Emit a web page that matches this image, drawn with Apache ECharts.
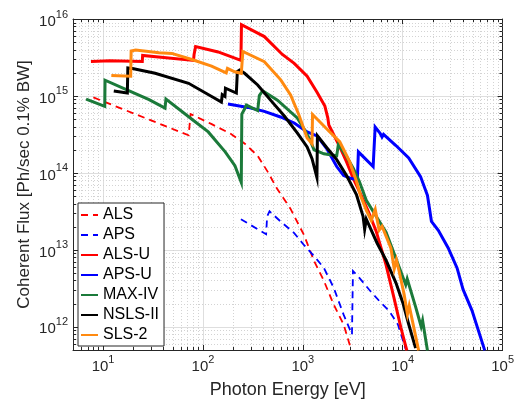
<!DOCTYPE html>
<html><head><meta charset="utf-8">
<script src="https://cdn.jsdelivr.net/npm/echarts@6/dist/echarts.min.js"></script>
<style>html,body{margin:0;padding:0;background:#fff}#c{width:517px;height:404px}</style>
</head><body><div id="c"></div>
<script>
// ---- tick values ----
const xMajorTicks = [10, 100, 1000, 10000, 100000];
const yMajorTicks = [1e12, 1e13, 1e14, 1e15, 1e16];
const xMinorTicks = [6,7,8,9,20,30,40,50,60,70,80,90,200,300,400,500,600,700,800,900,
  2000,3000,4000,5000,6000,7000,8000,9000,20000,30000,40000,50000,60000,70000,80000,90000];
const yMinorTicks = [6e11,7e11,8e11,9e11,2e12,3e12,4e12,5e12,6e12,7e12,8e12,9e12,
  2e13,3e13,4e13,5e13,6e13,7e13,8e13,9e13,2e14,3e14,4e14,5e14,6e14,7e14,8e14,9e14,
  2e15,3e15,4e15,5e15,6e15,7e15,8e15,9e15];

// ---- series data [photon energy eV, coherent flux] ----
const ALS = [[8.0,9.57e14],[71.9,3.08e14],[75.2,5.82e14],[121,4.33e14],[191,3.21e14],[263,2.39e14],
  [353,1.67e14],[444,1.04e14],[557,6.12e13],[749,3.46e13],[1030,1.55e13],[1294,7.18e12],
  [1625,3.96e12],[2040,1.94e12],[2560,1.07e12],[3000,5.41e11]];
const APS = [[240,2.50e13],[429,1.60e13],[439,2.73e13],[464,3.17e13],[597,2.35e13],[820,1.65e13],
  [1030,1.15e13],[1294,8.32e12],[1625,5.82e12],[2040,3.21e12],[2560,1.44e12],[3104,7.94e11],
  [3176,5.32e12],[3681,4.33e12],[4624,3.03e12],[5807,2.18e12],[7293,1.62e12],[8955,1.07e12],[10715,5.1e11]];
const ALS_U = [[7.56,2.81e15],[11.65,2.87e15],[24.7,2.81e15],[24.9,3.36e15],[80.5,2.90e15],[81.5,3.46e15],
  [84.4,4.39e15],[142,3.73e15],[240,2.90e15],[243,8.44e15],[412,5.91e15],[624,3.46e15],[820,2.65e15],
  [1104,1.80e15],[1387,1.12e15],[1662,7.38e14],[1778,5.19e14],[1820,4.20e14],[2345,2.18e14],
  [2734,1.40e14],[3206,8.44e13],[3680,5.74e13],[4518,3.17e13],[5420,1.75e13],[6808,6.37e12],
  [8166,2.39e12],[9580,9.8e11],[10990,4.94e11]];
const APS_U = [[178,7.84e14],[282,7.10e14],[412,6.31e14],[597,5.33e14],[820,4.46e14],[1104,3.41e14],
  [1387,3.03e14],[1740,2.06e14],[2183,1.21e14],[2560,9.23e13],[3069,8.44e13],[3516,8.19e13],
  [3598,1.88e14],[5058,1.21e14],[5297,3.95e14],[5943,3.26e14],[6208,2.94e14],[6427,3.17e14],
  [8551,2.27e14],[11480,1.57e14],[15080,8.96e13],[17690,5.09e13],[19390,2.35e13],[22710,1.80e13],
  [28520,1.06e13],[34990,5.83e12],[40180,3.06e12],[49320,1.64e12],[66230,4.94e11]];
const MAX_IV = [[6.76,9.10e14],[10.4,7.33e14],[10.47,1.60e15],[17.1,1.21e15],[28.9,8.96e14],[41.7,6.96e14],
  [42.6,9.10e14],[76.9,5.02e14],[113,3.41e14],[167,1.88e14],[209,1.24e14],[242,7.50e13],[245,5.82e14],
  [261,6.76e14],[272,7.61e14],[353,6.46e14],[367,1.01e15],[396,1.17e15],[557,8.83e14],[879,5.18e14],
  [1030,3.73e14],[1181,2.69e14],[1294,2.00e14],[1625,1.77e14],[2183,1.67e14],[2270,2.35e14],
  [2746,1.62e14],[3206,1.14e14],[3681,7.73e13],[4318,4.40e13],[5420,2.73e13],[6808,1.70e13],
  [8166,9.10e12],[10715,3.52e12],[11090,4.20e12],[13530,1.78e12],[15290,1.01e12],[15810,1.21e12],[17690,4.94e11]];
const NSLS_II = [[12.8,1.16e15],[17.5,1.09e15],[17.7,2.32e15],[19.7,2.28e15],[33.2,1.97e15],[71.8,1.46e15],
  [121,9.93e14],[153,8.32e14],[156,1.04e15],[166,9.86e14],[168,1.26e15],[216,1.09e15],[221,2.07e15],
  [233,2.17e15],[261,1.97e15],[353,1.39e15],[475,8.83e14],[653,5.48e14],[879,3.31e14],[1104,2.18e14],
  [1236,1.53e14],[1384,8.69e13],[1400,3.03e14],[1740,2.12e14],[2183,1.49e14],[2740,9.23e13],
  [3440,5.25e13],[4008,2.73e13],[4159,1.85e13],[4318,2.50e13],[5546,1.22e13],[6808,7.38e12],
  [8551,3.73e12],[10020,2.06e12],[11480,1.08e12],[13460,5.30e11]];
const SLS_2 = [[12.1,1.84e15],[18.9,1.80e15],[19.1,3.85e15],[21.2,3.94e15],[36.3,3.64e15],[48.8,3.57e15],
  [77.4,2.98e15],[122,2.44e15],[171,1.99e15],[176,2.28e15],[208,2.06e15],[242,1.97e15],[251,3.78e15],
  [412,2.79e15],[601,1.62e15],[754,1.03e15],[912,5.71e14],[1104,2.85e14],[1236,2.39e14],[1251,5.74e14],
  [1493,4.55e14],[1862,3.40e14],[2340,2.54e14],[2942,1.40e14],[3448,7.73e13],[3776,5.09e13],
  [4325,3.27e13],[4842,2.42e13],[5308,3.36e13],[5807,1.80e13],[6210,2.03e13],[7620,1.05e13],
  [8222,5.65e12],[8650,7.38e12],[9205,5.28e12],[10330,2.64e12],[11150,1.46e12],[11620,1.88e12],
  [13990,5.96e11],[14420,4.94e11]];

const FONT = 'Liberation Sans, Arial, Helvetica, sans-serif';
const AX = '#262626';

function isPow10(v, list) { return list.some(t => Math.abs(v - t) / t < 1e-6); }
function supLabel(list) {
  return function (v) {
    if (!isPow10(v, list)) return '';
    return '{b|10}{s|' + Math.round(Math.log10(v)) + '}';
  };
}
const rich = {
  b: { fontSize: 15, fontFamily: FONT, color: AX, lineHeight: 20, verticalAlign: 'bottom' },
  s: { fontSize: 11, fontFamily: FONT, color: AX, lineHeight: 11, verticalAlign: 'top' }
};

function minorX(params, api) {
  const cs = params.coordSys;
  const x = Math.round(api.coord([api.value(0), 1e14])[0]) + 0.5;
  const b = cs.y + cs.height, t = cs.y;
  return { type: 'group', children: [
    { type: 'line', shape: { x1: x, y1: t, x2: x, y2: b }, style: { stroke: '#d3d3d3', lineWidth: 1, lineDash: [1, 2] } },
    { type: 'line', shape: { x1: x, y1: b, x2: x, y2: b - 3 }, style: { stroke: AX, lineWidth: 1 } },
    { type: 'line', shape: { x1: x, y1: t, x2: x, y2: t + 3 }, style: { stroke: AX, lineWidth: 1 } }
  ]};
}
function minorY(params, api) {
  const cs = params.coordSys;
  const y = Math.round(api.coord([100, api.value(1)])[1]) + 0.5;
  const l = cs.x, r = cs.x + cs.width;
  return { type: 'group', children: [
    { type: 'line', shape: { x1: l, y1: y, x2: r, y2: y }, style: { stroke: '#d3d3d3', lineWidth: 1, lineDash: [1, 2] } },
    { type: 'line', shape: { x1: l, y1: y, x2: l + 3, y2: y }, style: { stroke: AX, lineWidth: 1 } },
    { type: 'line', shape: { x1: r, y1: y, x2: r - 3, y2: y }, style: { stroke: AX, lineWidth: 1 } }
  ]};
}

function lineSeries(name, data, color, dashed) {
  return {
    name: name, type: 'line', data: data, symbol: 'none', showSymbol: false, z: 5,
    lineStyle: { color: color, width: dashed ? 1.8 : 3, type: dashed ? [7, 5] : 'solid', cap: 'butt', join: 'miter' },
    itemStyle: { color: color }, emphasis: { disabled: true }
  };
}

const chart = echarts.init(document.getElementById('c'), null, { renderer: 'canvas' });
chart.setOption({
  animation: false,
  backgroundColor: '#fff',
  grid: { left: 73, right: 9, top: 19, bottom: 51, containLabel: false },
  xAxis: [{
    type: 'log', logBase: 10, min: 5, max: 1e5, position: 'bottom',
    name: 'Photon Energy [eV]', nameLocation: 'middle', nameGap: 31, nameMoveOverlap: false,
    nameTextStyle: { fontSize: 18, fontFamily: FONT, color: AX },
    axisLine: { show: true, lineStyle: { color: AX, width: 1 } },
    axisTick: { show: true, inside: true, length: 5, lineStyle: { color: AX } },
    axisLabel: { formatter: supLabel(xMajorTicks), rich: rich, margin: 4, showMinLabel: true, showMaxLabel: true },
    splitLine: { show: true, lineStyle: { color: '#dedede', width: 1 } },
    minorTick: { show: false }, minorSplitLine: { show: false }
  }, {
    type: 'log', logBase: 10, min: 5, max: 1e5, position: 'top',
    axisLine: { show: true, lineStyle: { color: AX, width: 1 } },
    axisTick: { show: true, inside: true, length: 5, lineStyle: { color: AX } },
    axisLabel: { show: false }, splitLine: { show: false }
  }],
  yAxis: [{
    type: 'log', logBase: 10, min: 5e11, max: 1e16, position: 'left',
    name: 'Coherent Flux [Ph/sec 0.1% BW]', nameLocation: 'middle', nameGap: 40, nameMoveOverlap: false,
    nameTextStyle: { fontSize: 17, fontFamily: FONT, color: AX },
    axisLine: { show: true, lineStyle: { color: AX, width: 1 } },
    axisTick: { show: true, inside: true, length: 5, lineStyle: { color: AX } },
    axisLabel: { formatter: supLabel(yMajorTicks), rich: rich, margin: 5 },
    splitLine: { show: true, lineStyle: { color: '#dedede', width: 1 } }
  }, {
    type: 'log', logBase: 10, min: 5e11, max: 1e16, position: 'right',
    axisLine: { show: true, lineStyle: { color: AX, width: 1 } },
    axisTick: { show: true, inside: true, length: 5, lineStyle: { color: AX } },
    axisLabel: { show: false }, splitLine: { show: false }
  }],
  legend: {
    orient: 'vertical', left: 78, top: 203, padding: [4, 5, 3, 2], itemGap: 4,
    itemWidth: 17, itemHeight: 15, selectedMode: false,
    itemStyle: { opacity: 0 },
    backgroundColor: '#fff', borderColor: AX, borderWidth: 1,
    textStyle: { fontSize: 16, fontFamily: FONT, color: '#000' },
    data: ['ALS', 'APS', 'ALS-U', 'APS-U', 'MAX-IV', 'NSLS-II', 'SLS-2']
  },
  series: [
    { type: 'custom', renderItem: minorX, data: xMinorTicks.map(v => [v, 1e14]), z: 1, silent: true, clip: false },
    { type: 'custom', renderItem: minorY, data: yMinorTicks.map(v => [100, v]), z: 1, silent: true, clip: false },
    lineSeries('ALS', ALS, '#ff0000', true),
    lineSeries('APS', APS, '#0000ff', true),
    lineSeries('ALS-U', ALS_U, '#ff0000', false),
    lineSeries('APS-U', APS_U, '#0000ff', false),
    lineSeries('MAX-IV', MAX_IV, '#1b7a3a', false),
    lineSeries('NSLS-II', NSLS_II, '#000000', false),
    lineSeries('SLS-2', SLS_2, '#ff8a10', false)
  ]
});
</script>
</body></html>
